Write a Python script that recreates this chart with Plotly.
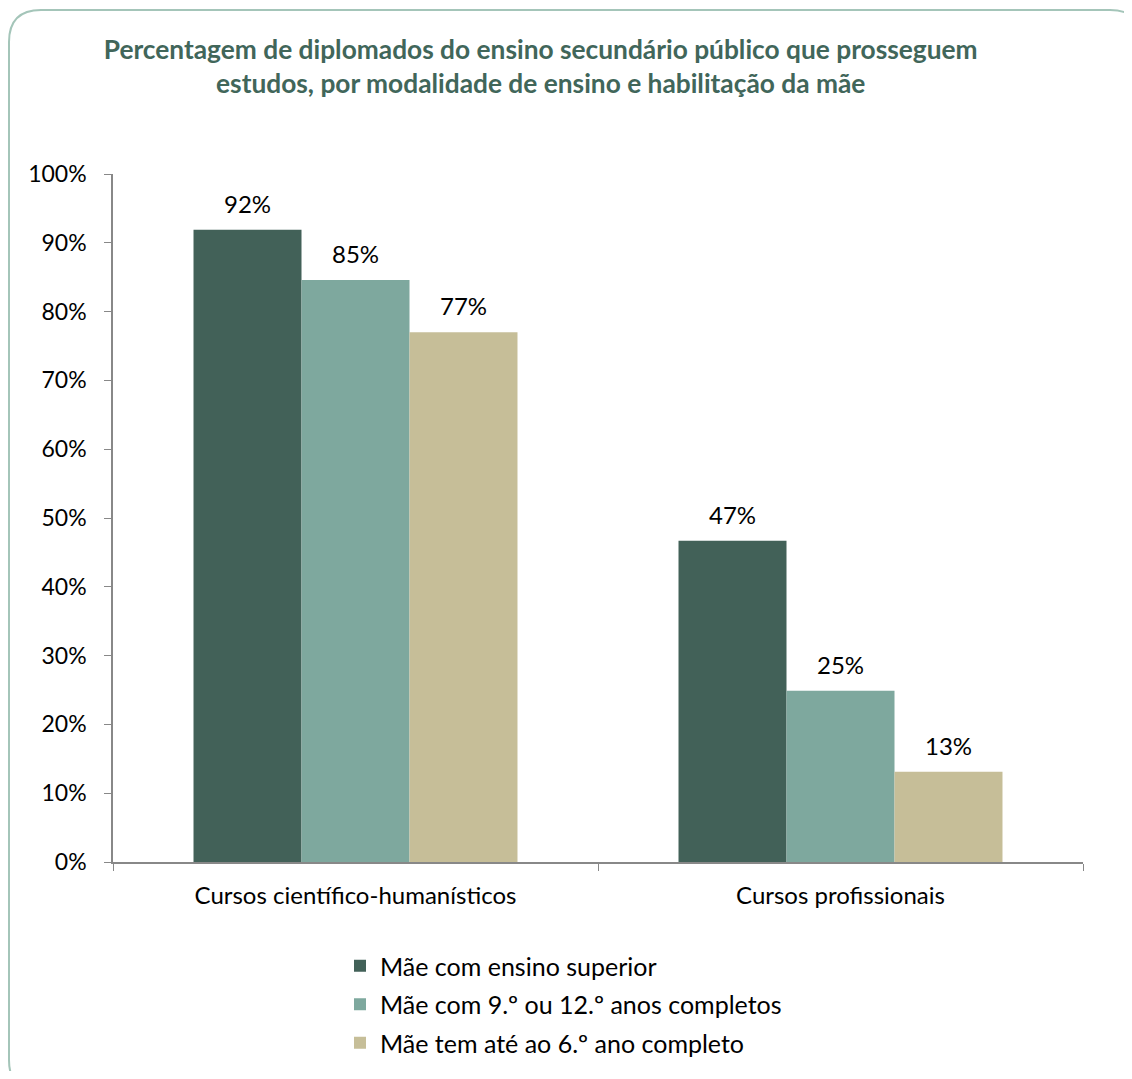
import plotly.graph_objects as go

categories = ["Cursos científico-humanísticos", "Cursos profissionais"]
series_names = ["Mãe com ensino superior", "Mãe com 9.º ou 12.º anos completos", "Mãe tem até ao 6.º ano completo"]
values_superior = [91.9, 46.7]
values_9_12 = [84.6, 24.9]
values_6 = [77.0, 13.1]
colors = ["#426158", "#7ea89e", "#c6be98"]
tick_vals = [0, 10, 20, 30, 40, 50, 60, 70, 80, 90, 100]
tick_text = [f"{v}%" for v in tick_vals]

OFF = 8  # page body margin
W, H = 1132 - 2 * OFF, 1079 - 2 * OFF
L, R, T, B = 113 - OFF, 1083 - OFF, 174 - OFF, 862 - OFF
font = "Lato, Calibri, Carlito, sans-serif"
FS = 24
BARGAP = 0.332

all_series = [values_superior, values_9_12, values_6]
n = len(all_series)
bar_w = (1 - BARGAP) / n

fig = go.Figure()
annotations = []
for i, (name, vals, col) in enumerate(zip(series_names, all_series, colors)):
    fig.add_trace(go.Bar(
        x=categories, y=vals, name=name, legendgroup=f"g{i}",
        marker=dict(color=col, line=dict(width=0)),
    ))
    for j, v in enumerate(vals):
        annotations.append(dict(
            x=j + (i - (n - 1) / 2) * bar_w, y=v, xref="x", yref="y",
            text=f"{round(v)}%", showarrow=False, yanchor="bottom", yshift=10,
            font=dict(size=FS, color="#000000", family=font),
        ))

def px(x):
    return (x - OFF - L) / (R - L)

def py(y):
    return (B - (y - OFF)) / (B - T)

# rounded border (reference pixel coords; extends past the right/bottom edge)
x0, x1, y0, y1, r = 9, 1142, 10, 1092, 32
path = (f"M {px(x0 + r)},{py(y0)} L {px(x1 - r)},{py(y0)} Q {px(x1)},{py(y0)} {px(x1)},{py(y0 + r)} "
        f"L {px(x1)},{py(y1 - r)} Q {px(x1)},{py(y1)} {px(x1 - r)},{py(y1)} "
        f"L {px(x0 + r)},{py(y1)} Q {px(x0)},{py(y1)} {px(x0)},{py(y1 - r)} "
        f"L {px(x0)},{py(y0 + r)} Q {px(x0)},{py(y0)} {px(x0 + r)},{py(y0)} Z")

fig.update_layout(
    width=W, height=H,
    margin=dict(l=L, r=W - R, t=T, b=H - B, autoexpand=False),
    paper_bgcolor="white", plot_bgcolor="white",
    barmode="group", bargap=BARGAP, bargroupgap=0,
    font=dict(family=font, size=FS, color="#000000"),
    title=dict(
        text="<b>Percentagem de diplomados do ensino secundário público que prosseguem<br>estudos, por modalidade de ensino e habilitação da mãe</b>",
        x=px(576), xanchor="center", y=1 - (59 - OFF) / H, yanchor="middle",
        font=dict(size=26.3, color="#41665a", family=font),
    ),
    xaxis=dict(
        showline=True, linecolor="#888888", linewidth=1.5,
        ticks="outside", tickson="boundaries", ticklen=7, tickcolor="#888888",
        tickfont=dict(size=FS, color="#000000"), showgrid=False, ticklabelstandoff=11,
    ),
    yaxis=dict(
        range=[0, 100], tickvals=tick_vals, ticktext=tick_text,
        showline=True, linecolor="#888888", linewidth=1.5,
        ticks="outside", ticklen=7, tickcolor="#888888", showgrid=False, zeroline=False,
        tickfont=dict(size=23, color="#000000"), ticklabelstandoff=13,
    ),
    legend=dict(
        x=px(340), xanchor="left", y=py(943), yanchor="top",
        font=dict(size=25, color="#000000"), traceorder="grouped", tracegroupgap=3,
        itemsizing="constant", bgcolor="rgba(0,0,0,0)", itemwidth=30,
    ),
    annotations=annotations,
    shapes=[dict(type="path", path=path, xref="paper", yref="paper",
                 line=dict(color="#a4c5b9", width=2), fillcolor="rgba(0,0,0,0)", layer="below")],
)

fig.write_html("out.html")
